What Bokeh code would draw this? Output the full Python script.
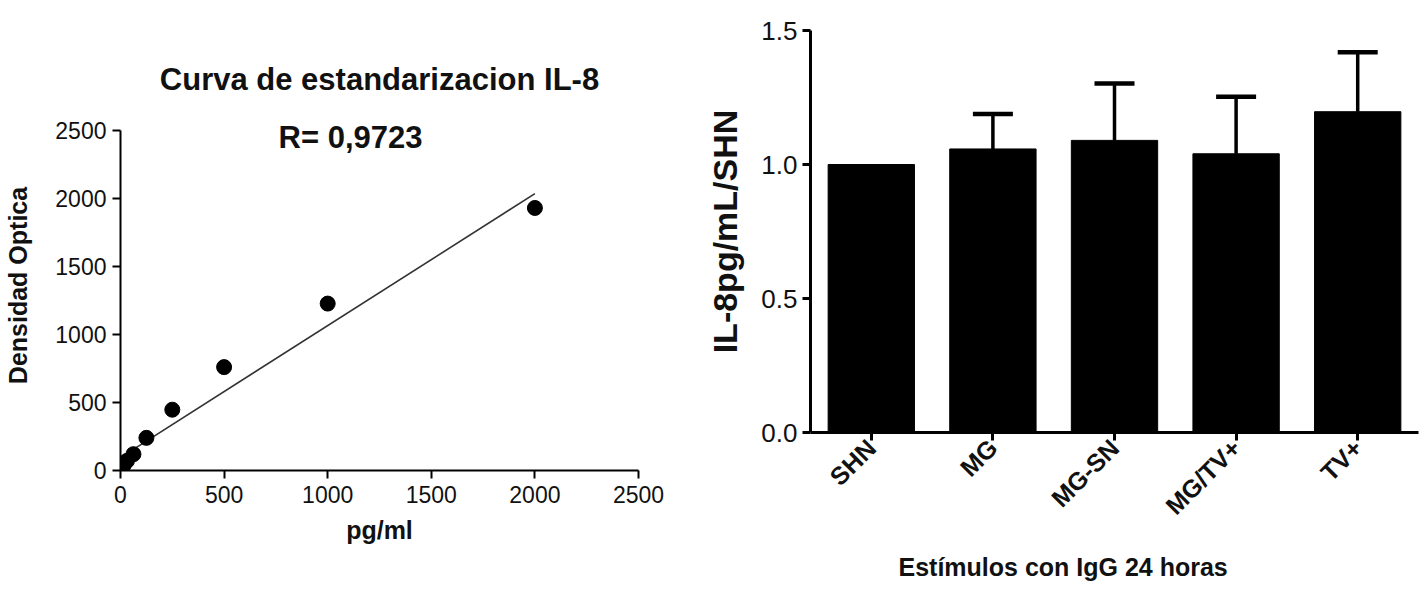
from bokeh.plotting import figure
from bokeh.layouts import row
from bokeh.models import (Range1d, FactorRange, ColumnDataSource, Label, Whisker,
                          TeeHead, FixedTicker, NumeralTickFormatter, Title)
from bokeh.embed import file_html
from bokeh.resources import INLINE
import math

# ---------------- data: standard curve ----------------
conc_pg_ml = [0, 7.8, 15.6, 31.25, 62.5, 125, 250, 500, 1000, 2000]
optical_density = [5, 20, 40, 71, 120, 240, 447, 760, 1227, 1930]
fit_slope = 0.97
fit_intercept = 95
r_text = "R= 0,9723"
left_title = "Curva de estandarizacion IL-8"
left_ticks = [0, 500, 1000, 1500, 2000, 2500]

# ---------------- data: bar chart ----------------
categories = ["SHN", "MG", "MG-SN", "MG/TV+", "TV+"]
ratio_means = [1.0, 1.058, 1.09, 1.04, 1.197]
ratio_sd = [0.0, 0.13, 0.212, 0.213, 0.222]
right_ticks = [0.0, 0.5, 1.0, 1.5]
right_xlabel = "Estímulos con IgG 24 horas"

FONT = "Liberation Sans"

# ================= left figure =================
p1 = figure(width=700, height=599, output_backend="svg", toolbar_location=None,
            x_range=Range1d(0, 2500), y_range=Range1d(0, 2720),
            min_border_left=120, min_border_right=62, min_border_top=100,
            min_border_bottom=129)
p1.frame_align = False
p1.outline_line_color = None
p1.xgrid.visible = False
p1.ygrid.visible = False

p1.title.text = left_title
p1.title.align = "center"
p1.title.text_font = FONT
p1.title.text_font_style = "bold"
p1.title.text_font_size = "31px"
p1.title.text_color = "#111111"
p1.title.standoff = 8

xs_fit = [min(conc_pg_ml), max(conc_pg_ml)]
ys_fit = [fit_slope * x + fit_intercept for x in xs_fit]
p1.line(xs_fit, ys_fit, line_color="#333333", line_width=1.6)
p1.scatter(conc_pg_ml, optical_density, size=15, color="black")

for ax in (p1.xaxis[0], p1.yaxis[0]):
    ax.ticker = FixedTicker(ticks=left_ticks)
    ax.bounds = (0, 2500)
    ax.axis_line_width = 2
    ax.major_tick_line_width = 2
    ax.major_tick_out = 8
    ax.major_tick_in = 0
    ax.minor_tick_line_color = None
    ax.major_label_text_font = FONT
    ax.major_label_text_font_size = "23px"
    ax.major_label_text_color = "#111111"
    ax.axis_label_text_font = FONT
    ax.axis_label_text_font_style = "bold"
    ax.axis_label_text_font_size = "25px"
    ax.axis_label_text_color = "#111111"

p1.xaxis.axis_label = "pg/ml"
p1.xaxis.major_label_standoff = 7
p1.xaxis.axis_label_standoff = 10
p1.yaxis.axis_label = "Densidad Optica"
p1.yaxis.major_label_standoff = 6
p1.yaxis.axis_label_standoff = 20

p1.add_layout(Label(x=1110, y=2449, text=r_text, text_font=FONT,
                    text_font_style="bold", text_font_size="31px",
                    text_align="center", text_baseline="middle",
                    text_color="#111111"))

# ================= right figure =================
p2 = figure(width=725, height=599, output_backend="svg", toolbar_location=None,
            x_range=FactorRange(*categories), y_range=Range1d(0, 1.5),
            min_border_left=110, min_border_right=7, min_border_top=30,
            min_border_bottom=167)
p2.frame_align = False
p2.outline_line_color = None
p2.xgrid.visible = False
p2.ygrid.visible = False

src = ColumnDataSource(dict(cat=categories, mean=ratio_means))
p2.vbar(x="cat", top="mean", bottom=0, width=0.71, source=src,
        fill_color="black", line_color="black")

err_cats = [c for c, s in zip(categories, ratio_sd) if s > 0]
err_means = [m for m, s in zip(ratio_means, ratio_sd) if s > 0]
err_upper = [m + s for m, s in zip(ratio_means, ratio_sd) if s > 0]
esrc = ColumnDataSource(dict(cat=err_cats, lower=err_means, upper=err_upper))
w = Whisker(base="cat", lower="lower", upper="upper", source=esrc,
            line_color="black", line_width=3.5, lower_head=None,
            upper_head=TeeHead(size=40, line_width=4.5, line_color="black"))
p2.add_layout(w)

p2.yaxis.ticker = FixedTicker(ticks=right_ticks)
p2.yaxis.formatter = NumeralTickFormatter(format="0.0")
for ax in (p2.xaxis[0], p2.yaxis[0]):
    ax.axis_line_width = 3
    ax.major_tick_line_width = 3
    ax.major_tick_out = 8
    ax.major_tick_in = 0
    ax.minor_tick_line_color = None
    ax.major_label_text_font = FONT
    ax.major_label_text_color = "#111111"
    ax.axis_label_text_font = FONT
    ax.axis_label_text_font_style = "bold"
    ax.axis_label_text_color = "#111111"

p2.yaxis.major_label_text_font_size = "26px"
p2.yaxis.major_label_standoff = 5
p2.yaxis.axis_label = "IL-8pg/mL/SHN"
p2.yaxis.axis_label_text_font_size = "34px"
p2.yaxis.axis_label_standoff = 14

p2.xaxis.major_label_orientation = math.pi / 4
p2.xaxis.major_label_text_font_size = "25px"
p2.xaxis.major_label_text_font_style = "bold"
p2.xaxis.major_label_standoff = 3

p2.add_layout(Title(text=right_xlabel, align="left", offset=88,
                    text_font=FONT, text_font_style="bold", text_font_size="25px",
                    text_color="#111111", standoff=37), "below")

layout = row(p1, p2, spacing=0)
open("out.html", "w").write(file_html(layout, INLINE))
